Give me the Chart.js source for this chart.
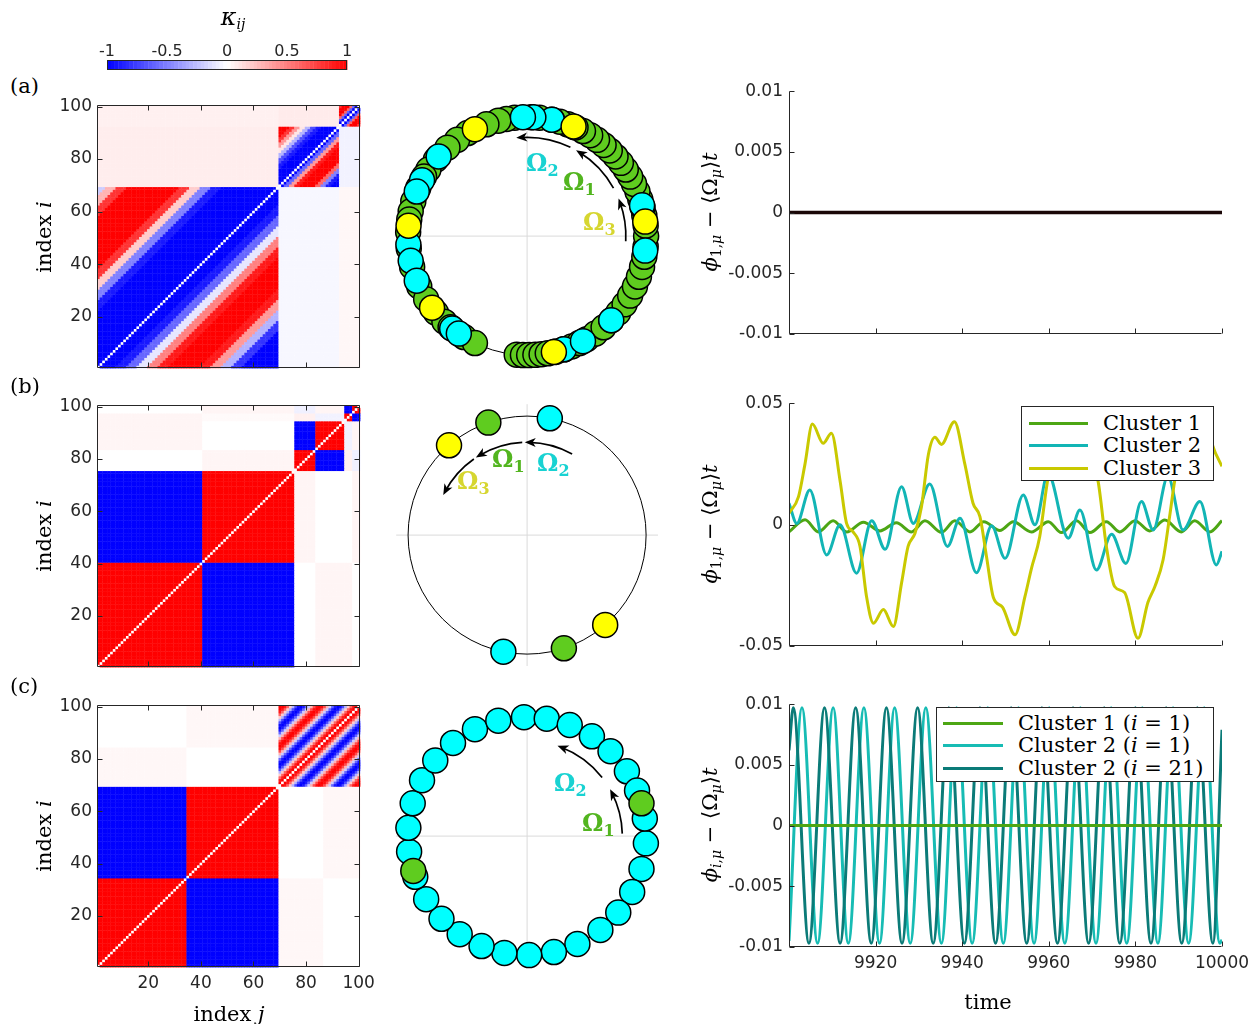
<!DOCTYPE html>
<html>
<head>
<meta charset="utf-8">
<script src="https://cdn.jsdelivr.net/npm/chart.js@4.4.1/dist/chart.umd.min.js"></script>
<style>
  body { margin: 0; width: 1260px; height: 1024px; background: #fff; position: relative; overflow: hidden; }
  .t { position: absolute; z-index: 5; font-family: 'DejaVu Serif', serif; font-size: 21px; color: #000; white-space: nowrap; line-height: 1; }
  .t sub { font-size: 14px; vertical-align: -4px; }
  .rot { transform: translate(-50%, -50%) rotate(-90deg); }
  .ctr { transform: translate(-50%, -50%); }
  .om { position: absolute; z-index: 5; font-family: 'DejaVu Serif', serif; font-weight: bold; font-size: 24px; line-height: 1; white-space: nowrap; }
  .om sub { font-size: 16px; vertical-align: -5px; }
  .leg { position: absolute; z-index: 6; background: #fff; border: 1px solid #262626; box-sizing: border-box; }
  .leg .ln { position: absolute; height: 3px; margin-top: -1px; }
  .leg .tx { position: absolute; font-family: 'DejaVu Serif', serif; font-size: 21px; line-height: 1; white-space: nowrap; transform: translateY(-50%); }
</style>
</head>
<body>

<div class="t ctr" style="left:233px;top:18px;font-size:24px"><i>κ</i><sub><i>ij</i></sub></div>
<div class="t" style="left:10px;top:76px">(a)</div>
<div class="t" style="left:10px;top:376px">(b)</div>
<div class="t" style="left:10px;top:676px">(c)</div>

<div class="t rot" style="left:44px;top:237px">index <i>i</i></div>
<div class="t rot" style="left:44px;top:536px">index <i>i</i></div>
<div class="t rot" style="left:44px;top:836px">index <i>i</i></div>
<div class="t ctr" style="left:229px;top:1014px">index <i>j</i></div>
<div class="t ctr" style="left:988px;top:1002px">time</div>

<div class="t rot" style="left:711px;top:212px"><i>ϕ</i><sub>1,<i>μ</i></sub> − ⟨Ω<sub><i>μ</i></sub>⟩<i>t</i></div>
<div class="t rot" style="left:711px;top:524px"><i>ϕ</i><sub>1,<i>μ</i></sub> − ⟨Ω<sub><i>μ</i></sub>⟩<i>t</i></div>
<div class="t rot" style="left:711px;top:825px"><i>ϕ</i><sub><i>i</i>,<i>μ</i></sub> − ⟨Ω<sub><i>μ</i></sub>⟩<i>t</i></div>

<div class="om" style="left:526px;top:151px;color:#18d2d2">Ω<sub>2</sub></div>
<div class="om" style="left:563px;top:170px;color:#52b51f">Ω<sub>1</sub></div>
<div class="om" style="left:583px;top:210px;color:#d6d630">Ω<sub>3</sub></div>

<div class="om" style="left:492px;top:447px;color:#52b51f">Ω<sub>1</sub></div>
<div class="om" style="left:537px;top:451px;color:#18d2d2">Ω<sub>2</sub></div>
<div class="om" style="left:457px;top:469px;color:#d6d630">Ω<sub>3</sub></div>

<div class="om" style="left:554px;top:771px;color:#18d2d2">Ω<sub>2</sub></div>
<div class="om" style="left:582px;top:811px;color:#52b51f">Ω<sub>1</sub></div>

<div class="leg" style="left:1021px;top:406px;width:193px;height:75px">
  <div class="ln" style="left:7px;top:16px;width:59px;background:#4da614"></div><div class="tx" style="left:81px;top:16px">Cluster 1</div>
  <div class="ln" style="left:7px;top:38px;width:59px;background:#12b5b5"></div><div class="tx" style="left:81px;top:38px">Cluster 2</div>
  <div class="ln" style="left:7px;top:61px;width:59px;background:#c9c900"></div><div class="tx" style="left:81px;top:61px">Cluster 3</div>
</div>
<div class="leg" style="left:936px;top:707px;width:278px;height:75px">
  <div class="ln" style="left:6px;top:15px;width:60px;background:#4da614"></div><div class="tx" style="left:81px;top:15px">Cluster 1 (<i>i</i> = 1)</div>
  <div class="ln" style="left:6px;top:37px;width:60px;background:#17bcb4"></div><div class="tx" style="left:81px;top:37px">Cluster 2 (<i>i</i> = 1)</div>
  <div class="ln" style="left:6px;top:60px;width:60px;background:#0b7b78"></div><div class="tx" style="left:81px;top:60px">Cluster 2 (<i>i</i> = 21)</div>
</div>

<script>
// ---- colour bar
const cbTicks = [-1, -0.5, 0, 0.5, 1];
const cbLabels = ['-1', '-0.5', '0', '0.5', '1'];

// ---- coupling matrices (index 1..100)
const idxTicks = [20, 40, 60, 80, 100];

// (a): blocks 1-69, 70-92, 93-100
const aBlockEnd = [69, 92, 100];
// block 1, kappa by i-j from -68 to 68 in steps of 4
const aWave = [-1, -1, -1, -1, -0.8, -0.3, 0.4, 0.9, 1, 1, 1, 0.9, 0.5, -0.1, -0.6, -0.9, -1, -1,
               -1, -1, -1, -1, -1, -0.9, -0.5, 0.2, 0.8, 1, 1, 1, 1, 1, 0.8, 0.3, -0.2];
// block 2, kappa by i-j from -22 to 22 in steps of 2
const aCheck = [-1, -1, -0.9, -0.5, 0.6, 1, 1, 1, 0.9, 0.4, -0.6, -1, -1, -1, -1, -0.9, -0.7, -0.3, 0.1, 0.4, 0.8, 1, 1];
// block 3, kappa by |i-j|
const aSmall = [0, -1, -0.6, 0.6, 1, 1, 1, 0.8];
const aOff = [[null, -0.03, 0.03], [0.07, null, -0.05], [0.06, 0.08, null]];

// (b): block ends and block values
const bBlockEnd = [40, 75, 83, 94, 97, 100];
const bKappa = [
  [ 1,    -1,    0,     0.04,  0.04,  0   ],
  [-1,     1,    0.04,  0,     0,     0.04],
  [ 0,     0.04, 1,    -1,     0.06, -0.06],
  [ 0.04,  0,   -1,     1,    -0.05,  0.04],
  [ 0.04,  0.02, 0.06, -0.05,  1,    -1   ],
  [ 0,     0.04,-0.06,  0.04, -1,     1   ]];

// (c): block ends (rows / cols), null = striped block
const cRowEnd = [34, 69, 84, 100];
const cColEnd = [34, 69, 86, 100];
const cKappa = [
  [ 1,   -1,    0.03, 0   ],
  [-1,    1,    0,    0.03],
  [ 0.03, 0,    null, null],
  [ 0,    0.03, null, null]];
// striped block, kappa by |i-j| = 0..30
const cStripe = [0, 1, 0.9, 0.6, 0.2, -0.3, -0.7, -0.95, -1, -0.9, -0.6, -0.2, 0.3, 0.7, 0.95, 1,
                 0.95, 0.7, 0.3, -0.2, -0.6, -0.9, -1, -0.95, -0.7, -0.3, 0.2, 0.6, 0.9, 1, 1];

// ---- phases on the unit circle (degrees)
const aGreen = [265, 268, 271, 274, 277, 280, 284, 288, 292, 296, 300, 305, 310, 315, 320, 325, 330, 335, 340,
                345, 350, 355, 0, 5, 10, 14, 18, 22, 26, 30, 34, 38, 42, 46, 50, 54, 58, 62, 66, 70, 74, 78,
                84, 88, 96, 100, 104, 110, 120, 126, 132, 140, 146, 150, 156, 163, 168, 172, 178, 186, 195,
                205, 212, 220, 226, 230, 238, 244];
const aCyan = [78, 87, 92, 138, 152, 158, 184, 192, 202, 231, 235, 288, 298, 315, 353, 15];
const aYellow = [7, 67, 116, 175, 217, 283];
const bGreen = [109, 288];
const bCyan = [79, 258.5];
const bYellow = [131, 311];
const cGreen = [16, 197];
const cCyan = [356.5, 344, 332, 320, 308, 295, 283, 271, 259, 247.5, 235.5, 224, 212, 200, 187.5, 176, 164,
               152, 140.5, 128.5, 116, 104, 91.5, 80.5, 69, 57, 45.5, 33, 22.5, 8.5];
// rotation arrows: [radius, from deg, to deg]
const aArrows = [[0.83, -3, 20], [0.83, 29, 58], [0.83, 64, 94]];
const bArrows = [[0.78, 61, 89], [0.78, 93, 121], [0.78, 125, 152]];
const cArrows = [[0.8, 1.5, 27], [0.8, 38, 69]];

// ---- time series
const tsTicksX = [9900, 9920, 9940, 9960, 9980, 10000];
const tsTicksSmall = [-0.01, -0.005, 0, 0.005, 0.01];
const tsLabelsSmall = ['-0.01', '-0.005', '0', '0.005', '0.01'];
const tsTicksBig = [-0.05, 0, 0.05];
const tsLabelsBig = ['-0.05', '0', '0.05'];

const aSeries = [[9900, 0], [10000, 0]];

const bCluster1 = [[9900, -0.003], [9903.7, 0.002], [9906.8, -0.003], [9910.2, 0.0016], [9913.3, -0.003],
  [9917.2, 0.001], [9921, -0.0026], [9924.8, 0.0008], [9928.3, -0.003], [9931.4, 0.0016], [9935.2, -0.0032],
  [9938.3, 0.0016], [9941.8, -0.003], [9945, 0.0012], [9948.7, -0.0024], [9951.8, 0.0012], [9956, -0.003],
  [9959.9, 0.0012], [9962.9, -0.0033], [9966.4, 0.0016], [9969.5, -0.0033], [9973.3, 0.0012], [9976.4, -0.003],
  [9979.9, 0.0016], [9983.3, -0.0026], [9986.8, 0.0019], [9990.6, -0.003], [9993.7, 0.0016], [9997.2, -0.003],
  [10000, 0.0016]];
const bCluster2 = [[9900, 0.0088], [9901.8, 0.0005], [9904.8, 0.0143], [9908.7, -0.0125], [9911.8, -0.0001],
  [9915.6, -0.02], [9919.1, 0.0016], [9922.2, -0.0102], [9926, 0.0156], [9928.7, 0.0005], [9932.5, 0.0167],
  [9936.6, -0.009], [9939.5, 0.0026], [9943.3, -0.0198], [9946.8, -0.0005], [9949.9, -0.0139], [9954.1, 0.0122],
  [9956.8, -0.0001], [9959.8, 0.021], [9964.5, -0.0056], [9967.2, 0.006], [9971, -0.0187], [9974.5, -0.004],
  [9977.8, -0.016], [9981.4, 0.0095], [9984.1, -0.0022], [9987.5, 0.0198], [9991, -0.0022], [9994.9, 0.0095],
  [9998.7, -0.0166], [10000, -0.011]];
const bCluster3 = [[9900, 0.0047], [9902.2, 0.0115], [9903.7, 0.025], [9905.4, 0.0414], [9907.9, 0.0335],
  [9909.8, 0.0376], [9911.8, 0.018], [9913.3, 0.0005], [9914.8, -0.003], [9916.4, -0.009], [9917.9, -0.0296],
  [9919.5, -0.0406], [9921.8, -0.035], [9924.1, -0.042], [9926, -0.024], [9927.5, -0.009], [9929.1, -0.0036],
  [9930.6, 0.0074], [9932.2, 0.029], [9933.7, 0.036], [9935.2, 0.033], [9938.2, 0.0424], [9940.6, 0.025],
  [9942.5, 0.0088], [9944.1, 0.0033], [9945.6, -0.013], [9947.2, -0.03], [9949.3, -0.034], [9952.2, -0.0454],
  [9954.5, -0.0296], [9956, -0.018], [9957.9, -0.005], [9959.5, 0.0156], [9961.5, 0.036], [9963, 0.04],
  [9964.8, 0.034], [9967, 0.04], [9969.3, 0.03], [9971.4, 0.0177], [9973.3, -0.009], [9975.2, -0.0255],
  [9977.5, -0.028], [9980.6, -0.0468], [9982.9, -0.032], [9984.5, -0.0255], [9986.4, -0.0145], [9987.9, 0.0033],
  [9989.1, 0.0184], [9990.8, 0.034], [9992.5, 0.039], [9994.5, 0.034], [9996.5, 0.037], [9998.6, 0.029],
  [10000, 0.024]];

const cCluster1 = [[9900, 0], [10000, 0]];
const cCluster2i1 = [[9900, -0.0095], [9903, 0.0097], [9906.6, -0.0097], [9910.2, 0.0097], [9913.7, -0.0097],
  [9917.3, 0.0097], [9920.9, -0.0097], [9924.4, 0.0097], [9928, -0.0097], [9931.6, 0.0097], [9935.2, -0.0097],
  [9938.7, 0.0097], [9942.3, -0.0097], [9945.9, 0.0097], [9949.5, -0.0097], [9953, 0.0097], [9956.6, -0.0097],
  [9960.1, 0.0097], [9963.7, -0.0097], [9967.3, 0.0097], [9970.9, -0.0097], [9974.4, 0.0097], [9978, -0.0097],
  [9981.6, 0.0097], [9985.2, -0.0097], [9988.7, 0.0097], [9992.3, -0.0097], [9995.9, 0.0097], [9999.5, -0.0097],
  [10000, -0.0094]];
const cCluster2i21 = [[9900, 0.0062], [9901, 0.0097], [9904.6, -0.0097], [9908.2, 0.0097], [9911.8, -0.0097],
  [9915.4, 0.0097], [9919, -0.0097], [9922.5, 0.0097], [9926.1, -0.0097], [9929.7, 0.0097], [9933.3, -0.0097],
  [9936.9, 0.0097], [9940.5, -0.0097], [9944.1, 0.0097], [9947.7, -0.0097], [9951.3, 0.0097], [9954.9, -0.0097],
  [9958.4, 0.0097], [9962, -0.0097], [9965.6, 0.0097], [9969.2, -0.0097], [9972.8, 0.0097], [9976.4, -0.0097],
  [9980, 0.0097], [9983.6, -0.0097], [9987.1, 0.0097], [9990.7, -0.0097], [9994.3, 0.0097], [9997.9, -0.0097],
  [10000, 0.0079]];

// ---- colours
const ink = '#262626';
const tickFont = { family: 'DejaVu Sans', size: 17 };
const markGreen = '#5fcc1f', markCyan = '#00ffff', markYellow = '#ffff00';

Chart.defaults.devicePixelRatio = 1;

function bwr(v) {
  if (v < 0) { const c = Math.round(255 * (1 + v)); return `rgb(${c},${c},255)`; }
  const c = Math.round(255 * (1 - v)); return `rgb(255,${c},${c})`;
}
function blockOf(ends, i) { return ends.findIndex(e => i <= e); }

function kappaA(i, j) {
  if (i === j) return 0;
  const bi = blockOf(aBlockEnd, i), bj = blockOf(aBlockEnd, j);
  if (bi !== bj) return aOff[bi][bj];
  const d = i - j;
  if (bi === 0) return aWave[Math.round((d + 68) / 4)];
  if (bi === 1) return aCheck[Math.round((d + 22) / 2)];
  return aSmall[Math.abs(d)];
}
function kappaB(i, j) {
  if (i === j) return 0;
  return bKappa[blockOf(bBlockEnd, i)][blockOf(bBlockEnd, j)];
}
function kappaC(i, j) {
  if (i === j) return 0;
  const v = cKappa[blockOf(cRowEnd, i)][blockOf(cColEnd, j)];
  return v === null ? cStripe[Math.abs(i - j)] : v;
}

function mount(x0, y0, x1, y1, m) {
  const div = document.createElement('div');
  div.style.cssText = `position:absolute;left:${x0 - m.l}px;top:${y0 - m.t}px;width:${x1 - x0 + m.l + m.r}px;height:${y1 - y0 + m.t + m.b}px`;
  const cv = document.createElement('canvas');
  div.appendChild(cv);
  document.body.appendChild(div);
  return cv;
}

// inward ticks and axis lines (box for the matrices)
function frame(box) {
  return {
    id: 'frame',
    afterDraw(chart) {
      const { ctx, chartArea: a, scales: { x, y } } = chart;
      const L = Math.round(a.left) + 0.5, R = Math.round(a.right) - 0.5;
      const T = Math.round(a.top) + 0.5, B = Math.round(a.bottom) - 0.5;
      const n = 5;
      ctx.save();
      ctx.strokeStyle = ink; ctx.lineWidth = 1;
      ctx.beginPath();
      ctx.moveTo(L, T); ctx.lineTo(L, B); ctx.lineTo(R, B);
      if (box) { ctx.lineTo(R, T); ctx.lineTo(L, T); }
      x.ticks.forEach(t => {
        const p = Math.round(x.getPixelForValue(t.value)) + 0.5;
        ctx.moveTo(p, B); ctx.lineTo(p, B - n);
        if (box) { ctx.moveTo(p, T); ctx.lineTo(p, T + n); }
      });
      y.ticks.forEach(t => {
        const p = Math.round(y.getPixelForValue(t.value)) + 0.5;
        ctx.moveTo(L, p); ctx.lineTo(L + n, p);
        if (box) { ctx.moveTo(R, p); ctx.lineTo(R - n, p); }
      });
      ctx.stroke();
      ctx.restore();
    }
  };
}

// matrix cells drawn through the scales
function cells(kappa) {
  return {
    id: 'cells',
    beforeDatasetsDraw(chart) {
      const { ctx, scales: { x, y } } = chart;
      for (let i = 1; i <= 100; i++) {
        const yt = y.getPixelForValue(i + 0.5), yb = y.getPixelForValue(i - 0.5);
        for (let j = 1; j <= 100; j++) {
          const xl = x.getPixelForValue(j - 0.5), xr = x.getPixelForValue(j + 0.5);
          ctx.fillStyle = bwr(kappa(i, j));
          ctx.fillRect(xl, yt, xr - xl + 0.4, yb - yt + 0.4);
        }
      }
    }
  };
}

function heatChart(y0, y1, kappa, showX) {
  const m = { l: 57, t: 15, r: 25, b: 40 };
  const cv = mount(97, y0, 360, y1, m);
  new Chart(cv, {
    type: 'scatter',
    data: { datasets: [] },
    options: {
      responsive: true, maintainAspectRatio: false, animation: false, events: [],
      layout: { padding: { left: 0, top: m.t, right: m.r, bottom: 0 } },
      plugins: { legend: { display: false }, tooltip: { enabled: false } },
      scales: {
        x: {
          type: 'linear', min: 0.5, max: 100.5,
          grid: { display: false, drawTicks: false }, border: { display: false },
          afterBuildTicks: s => { s.ticks = idxTicks.map(v => ({ value: v })); },
          afterFit: s => { s.height = m.b; },
          ticks: { display: showX, padding: 6, font: tickFont, color: ink, maxRotation: 0, autoSkip: false }
        },
        y: {
          type: 'linear', min: 0.5, max: 100.5,
          grid: { display: false, drawTicks: false }, border: { display: false },
          afterBuildTicks: s => { s.ticks = idxTicks.map(v => ({ value: v })); },
          afterFit: s => { s.width = m.l; },
          ticks: { padding: 5, font: tickFont, color: ink, autoSkip: false }
        }
      }
    },
    plugins: [cells(kappa), frame(true)]
  });
}

// ring, cross-hair and rotation arrows
function ring(arrows) {
  return {
    id: 'ring',
    beforeDatasetsDraw(chart) {
      const { ctx, scales: { x, y } } = chart;
      const cx = x.getPixelForValue(0), cy = y.getPixelForValue(0);
      const R = x.getPixelForValue(1) - cx;
      ctx.save();
      ctx.strokeStyle = '#dadada'; ctx.lineWidth = 1;
      ctx.beginPath();
      ctx.moveTo(x.getPixelForValue(-1.1), cy); ctx.lineTo(x.getPixelForValue(1.1), cy);
      ctx.moveTo(cx, y.getPixelForValue(1.1)); ctx.lineTo(cx, y.getPixelForValue(-1.1));
      ctx.stroke();
      ctx.strokeStyle = '#000';
      ctx.beginPath(); ctx.arc(cx, cy, R, 0, 2 * Math.PI); ctx.stroke();
      ctx.restore();
    },
    afterDatasetsDraw(chart) {
      const { ctx, scales: { x, y } } = chart;
      const cx = x.getPixelForValue(0), cy = y.getPixelForValue(0);
      const R = x.getPixelForValue(1) - cx;
      ctx.save();
      ctx.strokeStyle = '#000'; ctx.fillStyle = '#000'; ctx.lineWidth = 1.7;
      arrows.forEach(([r, a0, a1]) => {
        const rp = r * R, t0 = -a0 * Math.PI / 180, t1 = -a1 * Math.PI / 180;
        ctx.beginPath(); ctx.arc(cx, cy, rp, t0, t1, true); ctx.stroke();
        const ex = cx + rp * Math.cos(t1), ey = cy + rp * Math.sin(t1);
        const dx = Math.sin(t1), dy = -Math.cos(t1);
        const nx = -dy, ny = dx;
        ctx.beginPath();
        ctx.moveTo(ex + dx * 4, ey + dy * 4);
        ctx.lineTo(ex - dx * 7 + nx * 4.5, ey - dy * 7 + ny * 4.5);
        ctx.lineTo(ex - dx * 4, ey - dy * 4);
        ctx.lineTo(ex - dx * 7 - nx * 4.5, ey - dy * 7 - ny * 4.5);
        ctx.closePath(); ctx.fill();
      });
      ctx.restore();
    }
  };
}

const polar = deg => ({ x: Math.cos(deg * Math.PI / 180), y: Math.sin(deg * Math.PI / 180) });

function circleChart(cx, cy, groups, arrows) {
  const half = 1.11 * 119;
  const m = { l: 14, t: 14, r: 14, b: 14 };
  const cv = mount(cx - half, cy - half, cx + half, cy + half, m);
  new Chart(cv, {
    type: 'scatter',
    data: {
      datasets: groups.map(([angles, colour]) => ({
        data: angles.map(polar),
        pointRadius: 12.5, pointBorderWidth: 1.5, pointBorderColor: '#000',
        pointBackgroundColor: colour, clip: false
      }))
    },
    options: {
      responsive: true, maintainAspectRatio: false, animation: false, events: [],
      layout: { padding: m.l },
      plugins: { legend: { display: false }, tooltip: { enabled: false } },
      scales: {
        x: { type: 'linear', min: -1.11, max: 1.11, display: false },
        y: { type: 'linear', min: -1.11, max: 1.11, display: false }
      }
    },
    plugins: [ring(arrows)]
  });
}

function lineChart(y0, y1, series, yTicks, yLabels, showX) {
  const m = { l: 100, t: 15, r: 38, b: 45 };
  const cv = mount(789, y0, 1222, y1, m);
  new Chart(cv, {
    type: 'line',
    data: {
      datasets: series.map(([pts, colour, w]) => ({
        data: pts.map(([x, y]) => ({ x, y })),
        borderColor: colour, borderWidth: w || 3, pointRadius: 0,
        cubicInterpolationMode: 'monotone', fill: false
      }))
    },
    options: {
      responsive: true, maintainAspectRatio: false, animation: false, events: [],
      layout: { padding: { left: 0, top: m.t, right: m.r, bottom: 0 } },
      plugins: { legend: { display: false }, tooltip: { enabled: false } },
      scales: {
        x: {
          type: 'linear', min: 9900, max: 10000,
          grid: { display: false, drawTicks: false }, border: { display: false },
          afterBuildTicks: s => { s.ticks = tsTicksX.map(v => ({ value: v })); },
          afterFit: s => { s.height = m.b; },
          ticks: { display: showX, padding: 6, font: tickFont, color: ink, maxRotation: 0, autoSkip: false,
                   callback: v => (v === 9900 ? '' : String(v)) }
        },
        y: {
          type: 'linear', min: yTicks[0], max: yTicks[yTicks.length - 1],
          grid: { display: false, drawTicks: false }, border: { display: false },
          afterBuildTicks: s => { s.ticks = yTicks.map(v => ({ value: v })); },
          afterFit: s => { s.width = m.l; },
          ticks: { padding: 6, font: tickFont, color: ink, autoSkip: false,
                   callback: v => yLabels[yTicks.indexOf(v)] }
        }
      }
    },
    plugins: [frame(false)]
  });
}

// colour bar
(function () {
  const m = { l: 20, t: 30, r: 20, b: 4 };
  const cv = mount(107, 60, 347, 70, m);
  new Chart(cv, {
    type: 'scatter',
    data: { datasets: [] },
    options: {
      responsive: true, maintainAspectRatio: false, animation: false, events: [],
      layout: { padding: { left: m.l, top: 0, right: m.r, bottom: m.b } },
      plugins: { legend: { display: false }, tooltip: { enabled: false } },
      scales: {
        x: {
          type: 'linear', position: 'top', min: -1, max: 1,
          grid: { display: false, drawTicks: false }, border: { display: false },
          afterBuildTicks: s => { s.ticks = cbTicks.map(v => ({ value: v })); },
          afterFit: s => { s.height = m.t; },
          ticks: { padding: -1, font: { family: 'DejaVu Sans', size: 16 }, color: ink, maxRotation: 0, autoSkip: false,
                   callback: v => cbLabels[cbTicks.indexOf(v)] }
        },
        y: { type: 'linear', min: 0, max: 1, display: false }
      }
    },
    plugins: [{
      id: 'bar',
      beforeDatasetsDraw(chart) {
        const { ctx, chartArea: a, scales: { x } } = chart;
        const n = 64;
        for (let k = 0; k < n; k++) {
          const v0 = -1 + 2 * k / n, v1 = -1 + 2 * (k + 1) / n;
          const xl = x.getPixelForValue(v0), xr = x.getPixelForValue(v1);
          ctx.fillStyle = bwr((v0 + v1) / 2);
          ctx.fillRect(xl, a.top, xr - xl + 0.4, a.bottom - a.top);
        }
        ctx.strokeStyle = ink; ctx.lineWidth = 1;
        ctx.strokeRect(Math.round(a.left) + 0.5, Math.round(a.top) + 0.5, Math.round(a.right - a.left) - 1, Math.round(a.bottom - a.top) - 1);
      }
    }]
  });
})();

heatChart(105, 368, kappaA, false);
heatChart(405, 667, kappaB, false);
heatChart(705, 967, kappaC, true);

circleChart(527, 236, [[aYellow, markYellow], [aCyan, markCyan], [aGreen, markGreen]], aArrows);
circleChart(527, 535, [[bYellow, markYellow], [bCyan, markCyan], [bGreen, markGreen]], bArrows);
circleChart(527, 836, [[cGreen, markGreen], [cCyan, markCyan]], cArrows);

lineChart(90, 334, [[aSeries, '#1a0707', 3.5]], tsTicksSmall, tsLabelsSmall, false);
lineChart(402, 646, [[bCluster3, '#c9c900'], [bCluster2, '#12b5b5'], [bCluster1, '#4da614']], tsTicksBig, tsLabelsBig, false);
lineChart(703, 947, [[cCluster1, '#4da614'], [cCluster2i21, '#0b7b78'], [cCluster2i1, '#17bcb4']], tsTicksSmall, tsLabelsSmall, true);
</script>
</body>
</html>
